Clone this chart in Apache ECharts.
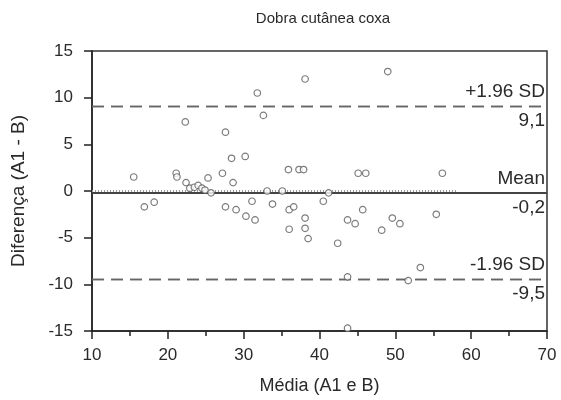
<!DOCTYPE html>
<html>
<head>
<meta charset="utf-8">
<script src="https://cdn.jsdelivr.net/npm/echarts@6/dist/echarts.min.js"></script>
<style>html,body{margin:0;padding:0;background:#fff}#c{width:561px;height:400px}</style>
</head>
<body>
<div id="c"></div>
<script>
const titleText = 'Dobra cutânea coxa';
const xName = 'Média (A1 e B)';
const yName = 'Diferença (A1 - B)';
const meanX = [15.5,16.9,18.2,21.1,21.2,22.3,22.4,22.9,23.5,24.0,24.5,24.9,25.3,25.7,27.2,27.6,27.6,28.4,28.6,29.0,30.2,30.3,31.1,31.5,31.8,32.6,33.1,33.8,35.1,35.9,36.0,36.6,36.0,37.3,37.9,38.1,38.1,38.1,38.5,40.5,41.2,42.4,43.7,43.7,43.7,44.7,45.1,46.1,45.7,48.2,49.0,49.6,50.6,51.7,53.3,55.4,56.2];
const diffY = [1.5,-1.7,-1.2,1.9,1.5,7.4,0.9,0.3,0.4,0.6,0.3,0.1,1.4,-0.2,1.9,6.3,-1.7,3.5,0.9,-2.0,3.7,-2.7,-1.1,-3.1,10.5,8.1,0.0,-1.4,0.0,2.3,-2.0,-1.7,-4.1,2.3,2.3,12.0,-2.9,-4.0,-5.1,-1.1,-0.2,-5.6,-3.1,-9.2,-14.7,-3.5,1.9,1.9,-2.0,-4.2,12.8,-2.9,-3.5,-9.6,-8.2,-2.5,1.9];
const meanDiff = -0.2;
const upperLoA = 9.1;
const lowerLoA = -9.5;
const zeroLineEnd = 58;
const lineLabels = {upperTop:'+1.96 SD', upperBottom:'9,1', meanTop:'Mean', meanBottom:'-0,2', lowerTop:'-1.96 SD', lowerBottom:'-9,5'};
const xTicks = {min:10, max:70, interval:10};
const yTicks = {min:-15, max:15, interval:5};

const chart = echarts.init(document.getElementById('c'), null, {renderer:'canvas'});
const font = 'Liberation Sans, Arial, sans-serif';
const txt = '#2a2a2a';
function hLine(y, x0, x1, labTop, labBottom){
  const lab = {show:true, fontFamily:font, fontSize:19, color:txt, distance:[2,5]};
  return [
    [{coord:[x0,y], label:Object.assign({}, lab, {position:'insideEndTop', formatter:labTop})},{coord:[x1,y]}],
    [{coord:[x0,y], label:Object.assign({}, lab, {position:'insideEndBottom', formatter:labBottom})},{coord:[x1,y]}]
  ];
}
chart.setOption({
  animation:false,
  title:{text:titleText, left:318, top:6, textAlign:'center', textStyle:{fontFamily:font, fontSize:15, fontWeight:'normal', color:txt}},
  grid:{left:92, right:14, top:51, bottom:69, show:true, borderColor:'#333', borderWidth:1.5},
  xAxis:{type:'value', min:xTicks.min, max:xTicks.max, interval:xTicks.interval,
    name:xName, nameLocation:'middle', nameGap:46, nameTextStyle:{fontFamily:font, fontSize:18, color:txt},
    axisLine:{onZero:false, lineStyle:{color:'#222', width:1.5}},
    axisTick:{show:true, inside:false, length:8, lineStyle:{color:'#222', width:1.5}},
    minorTick:{show:true, splitNumber:2, length:5, lineStyle:{color:'#222', width:1.5}},
    axisLabel:{fontFamily:font, fontSize:17, color:txt, margin:16},
    splitLine:{show:false}},
  yAxis:{type:'value', min:yTicks.min, max:yTicks.max, interval:yTicks.interval,
    name:yName, nameLocation:'middle', nameGap:64, nameRotate:90, nameTextStyle:{fontFamily:font, fontSize:19, color:txt},
    axisLine:{onZero:false, lineStyle:{color:'#222', width:1.5}},
    axisTick:{show:true, inside:false, length:8, lineStyle:{color:'#222', width:1.5}},
    axisLabel:{fontFamily:font, fontSize:17, color:txt, margin:19},
    splitLine:{show:false}},
  series:[
    {type:'scatter', data:meanX.map((x,i)=>[x, diffY[i]]), symbol:'circle', symbolSize:6.5,
      itemStyle:{color:'#fff', borderColor:'#5a5a5a', borderWidth:1.2}, z:5,
      markLine:{silent:true, symbol:'none', animation:false,
        lineStyle:{color:'#666', type:[12,7], width:1.3},
        data:[].concat(
          hLine(upperLoA, xTicks.min, xTicks.max, lineLabels.upperTop, lineLabels.upperBottom),
          hLine(lowerLoA, xTicks.min, xTicks.max, lineLabels.lowerTop, lineLabels.lowerBottom)
        )}},
    {type:'line', data:[], markLine:{silent:true, symbol:'none', animation:false,
        lineStyle:{color:'#444', type:'solid', width:2},
        data:hLine(meanDiff, xTicks.min, xTicks.max, lineLabels.meanTop, lineLabels.meanBottom)}},
    {type:'line', data:[], markLine:{silent:true, symbol:'none', animation:false,
        lineStyle:{color:'#999', type:[1,2], width:2},
        data:[[{coord:[xTicks.min,0], label:{show:false}},{coord:[zeroLineEnd,0]}]]}}
  ]
});
</script>
</body>
</html>
